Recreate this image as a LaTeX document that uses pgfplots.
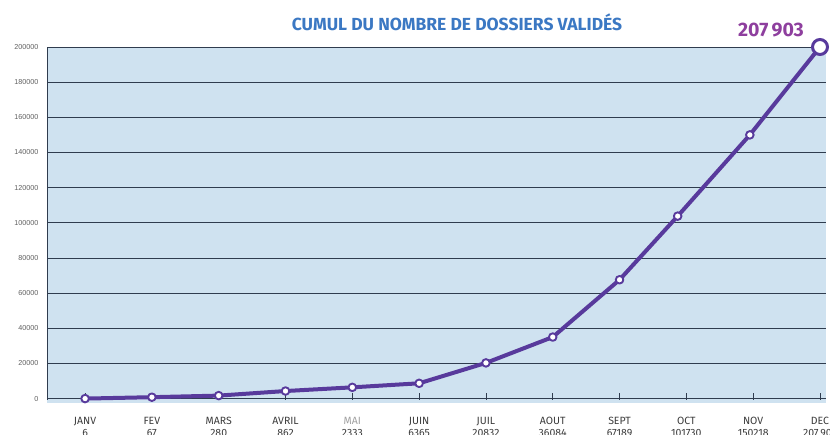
\documentclass[border=0pt]{standalone}
\usepackage{pgfplots}
\pgfplotsset{compat=1.18}
\usepackage{fontspec}
\setmainfont{Fira Sans}
\newfontfamily\arialfont{Liberation Sans}
\definecolor{bgblue}{RGB}{207,226,240}
\definecolor{gridc}{RGB}{47,60,78}
\definecolor{linec}{RGB}{88,58,156}
\definecolor{titleblue}{RGB}{59,120,195}
\definecolor{valpurple}{RGB}{142,63,158}
\definecolor{labelgray}{RGB}{60,60,60}
\definecolor{maigray}{RGB}{160,160,160}
\begin{document}
\begin{tikzpicture}[x=1pt,y=1pt]
\begin{axis}[
  at={(47pt,-400pt)}, anchor=south west,
  scale only axis, width=779pt, height=353pt,
  xmin=-0.57, xmax=11.09, ymin=-800, ymax=200000,
  clip=false,
  axis background/.style={fill=bgblue},
  axis x line*=bottom, axis y line*=left,
  axis line style={draw=gridc, line width=1pt},
  xtick={0,...,11},
  xticklabels={{JANV\\6},{FEV\\67},{MARS\\280},{AVRIL\\862},{{\color{maigray}MAI}\\2333},{JUIN\\6365},{JUIL\\20832},{AOUT\\36084},{SEPT\\67189},{OCT\\101730},{NOV\\150218},{DEC\\207\,903}},
  xticklabel style={align=center, font=\fontsize{10.5}{12}\selectfont, text=labelgray, yshift=-14pt},
  tick align=inside, major tick length=7pt,
  xtick style={draw=gridc, line width=0.8pt},
  ytick={0,20000,...,200000},
  ytick style={draw=none},
  ymajorgrids, grid style={draw=gridc, line width=0.9pt},
  scaled y ticks=false,
  yticklabel style={font=\arialfont\fontsize{7.2}{8}\selectfont, text=gray!75!black, xshift=-5pt, /pgf/number format/.cd, fixed, 1000 sep={}, assume math mode=true},
]
\fill[bgblue] (axis cs:-0.57,-800) rectangle (axis cs:11.09,-2600);
\addplot[color=linec, line width=4pt, line join=round, mark=*, mark size=3.8pt,
  mark options={fill=white, draw=linec, line width=1.9pt}] coordinates {
  (0,6) (1,800) (2,1700) (3,4300) (4,6400) (5,8700) (6,20300) (7,35000) (8,67600) (8.87,103800) (9.95,150000) (11,200000)
};
\addplot[only marks, mark=*, mark size=7.5pt, mark options={fill=white, draw=linec, line width=3pt}] coordinates {(11,200000)};
\end{axis}
\node[font=\bfseries\fontsize{17.5}{20}\selectfont, text=titleblue] at (457pt,-22pt) {CUMUL DU NOMBRE DE DOSSIERS VALIDÉS};
\node[font=\bfseries\fontsize{19.5}{22}\selectfont, text=valpurple] at (771pt,-30pt) {207\,903};
\pgfresetboundingbox
\path[use as bounding box] (0,0) rectangle (830pt,-435pt);
\end{tikzpicture}
\end{document}
